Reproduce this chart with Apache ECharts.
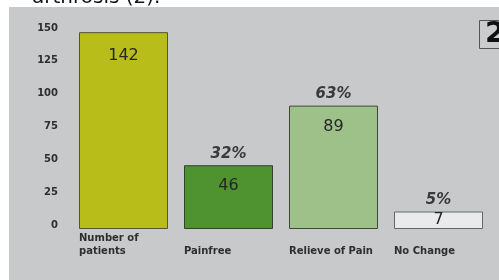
<!DOCTYPE html>
<html>
<head>
<meta charset="utf-8">
<script src="https://cdn.jsdelivr.net/npm/echarts@6/dist/echarts.min.js"></script>
<style>
  html, body { margin: 0; padding: 0; background: #fff; }
  #chart { width: 499px; height: 280px; }
</style>
</head>
<body>
<div id="chart"></div>
<script>
// данные
const categories = ['Number of\npatients', 'Painfree', 'Relieve of Pain', 'No Change']
const patientCounts = [142, 46, 89, 7]
const percentLabels = ['', '32%', '63%', '5%']
const yTickValues = [0, 25, 50, 75, 100, 125, 150]

const barColors = ['#b8bd1a', '#4f9330', '#9ec189', '#eaeaec']
const barBorders = ['#55552a', '#33422a', '#3a4a36', '#666666']

const chart = echarts.init(document.getElementById('chart'))

const option = {
  animation: false,
  backgroundColor: '#ffffff',
  textStyle: { fontFamily: 'DejaVu Sans' },
  graphic: [
    {
      type: 'rect',
      z: -10,
      shape: { x: 9, y: 7, width: 490, height: 273 },
      style: { fill: '#c8c9cb' }
    },
    {
      type: 'text',
      x: 32,
      y: -2,
      style: {
        text: 'arthrosis (2).',
        font: '20px "DejaVu Sans"',
        fill: '#111',
        verticalAlign: 'middle'
      }
    },
    {
      type: 'rect',
      shape: { x: 479.5, y: 20.5, width: 30, height: 28 },
      style: { fill: '#cbccce', stroke: '#555', lineWidth: 1 }
    },
    {
      type: 'text',
      x: 485,
      y: 34.5,
      style: {
        text: '2',
        font: 'bold 29px "DejaVu Sans"',
        fill: '#111',
        verticalAlign: 'middle'
      }
    }
  ],
  grid: { left: 71, right: 8, top: 28, bottom: 51 },
  xAxis: {
    type: 'category',
    data: categories,
    axisLine: { show: false },
    axisTick: { show: false },
    axisLabel: {
      interval: 0,
      margin: 28.5,
      verticalAlign: 'bottom',
      formatter: v => v.split('\n').map(s => '{a|' + s + '}').join('\n'),
      rich: {
        a: {
          width: 89,
          align: 'left',
          lineHeight: 13,
          fontSize: 10,
          fontWeight: 'bold',
          color: '#2e2e2e'
        }
      }
    }
  },
  yAxis: [
    {
      // ось только для подписей
      type: 'value',
      min: -3,
      max: 150,
      axisLine: { show: false },
      axisTick: { show: false },
      splitLine: { show: false },
      axisLabel: {
        customValues: yTickValues,
        margin: 13,
        fontSize: 10,
        fontWeight: 'bold',
        color: '#2e2e2e'
      }
    },
    {
      type: 'value',
      min: 0,
      max: 145,
      show: false
    }
  ],
  series: [
    {
      name: 'Patients',
      type: 'bar',
      yAxisIndex: 1,
      barWidth: 89,
      barMinHeight: 17.5,
      data: patientCounts.map((v, i) => ({
        value: v,
        itemStyle: { color: barColors[i], borderColor: barBorders[i], borderWidth: 1 },
        label: i === 0 ? { distance: 16 } : (i === 3 ? { position: 'inside' } : {})
      })),
      label: {
        show: true,
        position: 'insideTop',
        distance: 13,
        fontSize: 16,
        color: '#262626'
      }
    },
    {
      name: 'Percent',
      type: 'bar',
      yAxisIndex: 1,
      barWidth: 89,
      barGap: '-100%',
      barMinHeight: 17.5,
      silent: true,
      data: patientCounts,
      itemStyle: { color: 'transparent' },
      label: {
        show: true,
        position: 'top',
        distance: 4,
        formatter: p => percentLabels[p.dataIndex],
        fontSize: 15,
        fontStyle: 'italic',
        fontWeight: 'bold',
        color: '#3a3a3a'
      }
    }
  ]
}

chart.setOption(option)
</script>
</body>
</html>
